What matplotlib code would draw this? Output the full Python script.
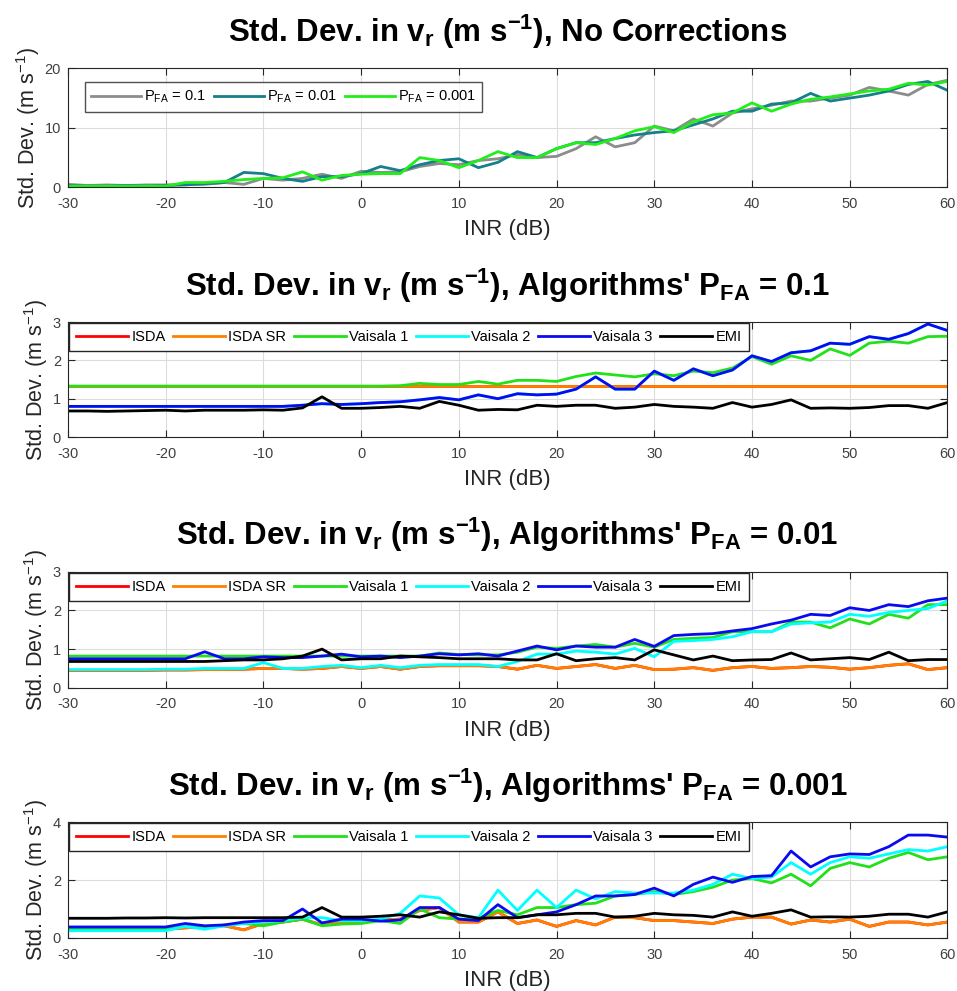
import numpy as np
import matplotlib
matplotlib.use("Agg")
from matplotlib import pyplot as plt

plt.rcParams['font.family'] = ['Liberation Sans', 'DejaVu Sans']
plt.rcParams['mathtext.fontset'] = 'custom'
plt.rcParams['mathtext.rm'] = 'Liberation Sans'
plt.rcParams['mathtext.it'] = 'Liberation Sans'
plt.rcParams['mathtext.bf'] = 'Liberation Sans:bold'
plt.rcParams['axes.unicode_minus'] = False

inr = list(range(-30, 61, 2))

# panel 1: no corrections
nc_01 = [0.5, 0.3, 0.4, 0.3, 0.4, 0.4, 0.5, 0.5, 0.8, 0.5, 1.5, 1.2, 1.5, 2.2, 1.5, 2.7,
         2.5, 2.6, 3.5, 4.0, 3.8, 4.5, 4.8, 5.5, 5.0, 5.2, 6.5, 8.5, 6.8, 7.5, 10.3, 9.5,
         11.5, 10.3, 12.5, 13.2, 13.8, 14.5, 14.5, 15.0, 15.5, 16.8, 16.2, 15.5, 17.3, 18.0]
nc_001 = [0.3, 0.2, 0.2, 0.3, 0.2, 0.3, 0.4, 0.6, 0.8, 2.5, 2.3, 1.5, 1.0, 1.8, 1.8, 2.3,
          3.5, 2.8, 3.8, 4.5, 4.8, 3.3, 4.2, 6.0, 5.0, 6.5, 7.5, 7.5, 8.2, 8.8, 9.2, 9.5,
          10.5, 11.5, 12.8, 12.8, 14.0, 14.2, 15.8, 14.5, 15.0, 15.5, 16.2, 17.3, 17.8, 16.3]
nc_0001 = [0.2, 0.2, 0.2, 0.2, 0.2, 0.2, 0.8, 0.8, 1.0, 1.3, 1.5, 1.6, 2.6, 1.2, 2.0, 2.2,
           2.3, 2.3, 5.0, 4.5, 3.3, 4.5, 6.0, 5.0, 5.0, 6.5, 7.5, 7.2, 8.2, 9.5, 10.2, 9.2,
           11.0, 12.2, 12.5, 14.2, 12.8, 14.0, 14.8, 15.2, 15.7, 16.2, 16.5, 17.5, 17.2, 17.8]

# panel 2: algorithms' P_FA = 0.1
p1_isda = [1.33] * 46
p1_isdasr = [1.33] * 46
p1_vai1 = [1.33] * 17 + [1.34, 1.40, 1.37, 1.37, 1.45, 1.38, 1.48, 1.48, 1.45, 1.58, 1.67,
                         1.62, 1.57, 1.65, 1.60, 1.72, 1.68, 1.80, 2.10, 1.90, 2.12, 2.00,
                         2.30, 2.13, 2.45, 2.50, 2.45, 2.62, 2.63]
p1_vai3 = [0.80] * 12 + [0.83, 0.87, 0.85, 0.87, 0.90, 0.92, 0.97, 1.03, 0.97, 1.10, 1.00,
                         1.13, 1.10, 1.12, 1.25, 1.57, 1.25, 1.25, 1.72, 1.48, 1.78, 1.60,
                         1.75, 2.12, 1.97, 2.20, 2.25, 2.45, 2.42, 2.62, 2.55, 2.70, 2.95, 2.78]
p1_vai2 = list(p1_vai3)
p1_emi = [0.68, 0.68, 0.67, 0.68, 0.69, 0.70, 0.68, 0.70, 0.70, 0.70, 0.71, 0.70, 0.76, 1.05,
          0.75, 0.75, 0.77, 0.80, 0.75, 0.93, 0.83, 0.70, 0.72, 0.71, 0.83, 0.80, 0.83, 0.83,
          0.75, 0.78, 0.85, 0.80, 0.78, 0.75, 0.90, 0.78, 0.85, 0.97, 0.75, 0.76, 0.75, 0.77,
          0.82, 0.82, 0.75, 0.90]

# panel 3: algorithms' P_FA = 0.01
p2_isdasr = [0.45, 0.45, 0.45, 0.45, 0.45, 0.46, 0.46, 0.47, 0.47, 0.48, 0.50, 0.50, 0.48,
             0.50, 0.55, 0.50, 0.55, 0.48, 0.55, 0.57, 0.57, 0.57, 0.55, 0.48, 0.58, 0.50,
             0.55, 0.60, 0.50, 0.58, 0.47, 0.48, 0.52, 0.45, 0.52, 0.55, 0.50, 0.52, 0.55,
             0.53, 0.48, 0.52, 0.58, 0.62, 0.47, 0.52]
p2_isda = list(p2_isdasr)
p2_vai1 = [0.82] * 19 + [0.90, 0.86, 0.85, 0.85, 0.92, 1.05, 1.02, 1.08, 1.12, 1.05,
                         1.15, 1.05, 1.25, 1.28, 1.30, 1.45, 1.45, 1.45, 1.70, 1.70, 1.55,
                         1.78, 1.65, 1.90, 1.80, 2.15, 2.15]
p2_vai2 = [0.47, 0.47, 0.47, 0.47, 0.47, 0.48, 0.48, 0.50, 0.50, 0.50, 0.65, 0.50, 0.50,
           0.55, 0.58, 0.52, 0.58, 0.52, 0.58, 0.60, 0.60, 0.60, 0.55, 0.68, 0.87, 0.87,
           0.95, 0.92, 0.87, 1.02, 0.80, 1.20, 1.22, 1.25, 1.32, 1.45, 1.45, 1.65, 1.68,
           1.70, 1.90, 1.85, 1.95, 2.00, 2.05, 2.25]
p2_vai3 = [0.75, 0.75, 0.75, 0.75, 0.75, 0.75, 0.75, 0.93, 0.75, 0.75, 0.80, 0.78, 0.78,
           0.82, 0.87, 0.80, 0.82, 0.78, 0.82, 0.88, 0.85, 0.88, 0.82, 0.95, 1.08, 0.98,
           1.08, 1.05, 1.05, 1.25, 1.07, 1.35, 1.38, 1.40, 1.47, 1.53, 1.65, 1.75, 1.90,
           1.87, 2.07, 2.00, 2.15, 2.10, 2.25, 2.32]
p2_emi = [0.68, 0.68, 0.68, 0.68, 0.68, 0.68, 0.68, 0.68, 0.70, 0.72, 0.72, 0.75, 0.82,
          1.00, 0.72, 0.75, 0.75, 0.82, 0.80, 0.78, 0.75, 0.75, 0.75, 0.72, 0.72, 0.88,
          0.70, 0.75, 0.78, 0.72, 0.98, 0.85, 0.72, 0.82, 0.70, 0.72, 0.73, 0.90, 0.72,
          0.75, 0.78, 0.73, 0.92, 0.70, 0.73, 0.73]

# panel 4: algorithms' P_FA = 0.001
p3_isdasr = [0.30, 0.30, 0.30, 0.30, 0.30, 0.30, 0.35, 0.38, 0.42, 0.28, 0.50, 0.55, 0.65,
             0.45, 0.55, 0.55, 0.62, 0.65, 0.95, 1.05, 0.55, 0.55, 0.90, 0.50, 0.62, 0.40,
             0.60, 0.45, 0.72, 0.70, 0.60, 0.60, 0.55, 0.50, 0.65, 0.72, 0.72, 0.48, 0.62,
             0.55, 0.65, 0.40, 0.55, 0.55, 0.45, 0.55]
p3_isda = list(p3_isdasr)
p3_vai1 = [0.30, 0.30, 0.30, 0.30, 0.30, 0.30, 0.40, 0.35, 0.45, 0.50, 0.42, 0.55, 0.65,
           0.42, 0.48, 0.50, 0.60, 0.50, 1.00, 0.70, 0.65, 0.68, 0.95, 0.80, 1.05, 1.05,
           1.15, 1.20, 1.45, 1.50, 1.60, 1.50, 1.60, 1.75, 2.00, 2.05, 1.90, 2.20, 1.80,
           2.40, 2.60, 2.45, 2.75, 2.95, 2.70, 2.80]
p3_vai2 = [0.25, 0.25, 0.25, 0.25, 0.25, 0.25, 0.40, 0.30, 0.42, 0.50, 0.55, 0.60, 0.70,
           0.70, 0.60, 0.60, 0.65, 0.85, 1.45, 1.38, 0.80, 0.70, 1.65, 0.95, 1.65, 1.05,
           1.65, 1.35, 1.60, 1.55, 1.55, 1.55, 1.65, 1.85, 2.20, 2.05, 2.10, 2.60, 2.20,
           2.60, 2.80, 2.75, 2.90, 3.05, 3.00, 3.15]
p3_vai3 = [0.38, 0.38, 0.38, 0.38, 0.38, 0.38, 0.50, 0.42, 0.45, 0.55, 0.60, 0.60, 1.00,
           0.52, 0.65, 0.65, 0.58, 0.62, 1.05, 1.05, 0.65, 0.60, 1.15, 0.70, 0.80, 0.90,
           1.15, 1.45, 1.45, 1.50, 1.72, 1.45, 1.85, 2.10, 1.92, 2.12, 2.15, 3.00, 2.45,
           2.80, 2.90, 2.88, 3.15, 3.55, 3.55, 3.48]
p3_emi = [0.68, 0.68, 0.68, 0.69, 0.69, 0.70, 0.69, 0.70, 0.70, 0.70, 0.70, 0.70, 0.72,
          1.05, 0.72, 0.72, 0.75, 0.80, 0.72, 0.90, 0.80, 0.68, 0.70, 0.70, 0.80, 0.80,
          0.85, 0.85, 0.72, 0.75, 0.85, 0.80, 0.78, 0.72, 0.90, 0.75, 0.85, 0.97, 0.72,
          0.73, 0.72, 0.75, 0.82, 0.82, 0.72, 0.90]

alg_names = ['ISDA', 'ISDA SR', 'Vaisala 1', 'Vaisala 2', 'Vaisala 3', 'EMI']
alg_colors = ['#ff0000', '#ff8000', '#22e01a', '#00ffff', '#0a0af0', '#000000']


def style_axes(ax, ymax, yticks):
    ax.set_xlim(-30, 60)
    ax.set_ylim(0, ymax)
    ax.set_xticks(range(-30, 61, 10))
    ax.set_yticks(yticks)
    ax.grid(True, color='#dcdcdc', linewidth=0.8)
    ax.set_axisbelow(True)
    ax.tick_params(direction='in', top=True, right=True, labelsize=10.5, length=5,
                   color='#262626', labelcolor='#404040')
    ax.tick_params(axis='x', pad=7)
    ax.tick_params(axis='y', pad=5)
    for s in ax.spines.values():
        s.set_color('#262626')
        s.set_linewidth(0.8)
    ax.set_xlabel('INR (dB)', fontsize=16, color='#262626', labelpad=6)
    ax.set_ylabel('Std. Dev. (m s$^{-1}$)', fontsize=15.5, color='#262626', labelpad=2)


fig = plt.figure(figsize=(9.57, 9.91), dpi=100)
positions = [[0.071, 0.811, 0.919, 0.120],
             [0.071, 0.559, 0.919, 0.116],
             [0.071, 0.306, 0.919, 0.117],
             [0.071, 0.0535, 0.919, 0.117]]

title_fs = 22.5
title_pad = 19

ax = fig.add_axes(positions[0])
ax.plot(inr, nc_01, color='#8c8c8c', lw=2.0, label='P$_{FA}$ = 0.1')
ax.plot(inr, nc_001, color='#157f8c', lw=2.0, label='P$_{FA}$ = 0.01')
ax.plot(inr, nc_0001, color='#22ee1a', lw=2.0, label='P$_{FA}$ = 0.001')
style_axes(ax, 20, [0, 10, 20])
ax.legend(loc='upper left', ncol=3, fontsize=10.5, frameon=True, fancybox=False,
          edgecolor='#262626', handlelength=3.4, columnspacing=0.6, handletextpad=0.2,
          borderpad=0.45, borderaxespad=0, bbox_to_anchor=(0.019, 0.885))
ax.set_title('Std. Dev. in v$_\\mathbf{r}$ (m s$^\\mathbf{-1}$), No Corrections',
             fontsize=title_fs, fontweight='bold', pad=title_pad)

panels = [
    ([p1_isda, p1_isdasr, p1_vai1, p1_vai2, p1_vai3, p1_emi], '0.1', 3, [0, 1, 2, 3]),
    ([p2_isda, p2_isdasr, p2_vai1, p2_vai2, p2_vai3, p2_emi], '0.01', 3, [0, 1, 2, 3]),
    ([p3_isda, p3_isdasr, p3_vai1, p3_vai2, p3_vai3, p3_emi], '0.001', 4, [0, 2, 4]),
]

for i, (series, pfa, ymax, yt) in enumerate(panels):
    ax = fig.add_axes(positions[i + 1])
    for vals, name, col in zip(series, alg_names, alg_colors):
        ax.plot(inr, vals, color=col, lw=2.0, label=name)
    style_axes(ax, ymax, yt)
    ax.legend(loc='upper left', ncol=6, fontsize=10.5, frameon=True, fancybox=False,
              edgecolor='#262626', handlelength=3.6, columnspacing=0.5, handletextpad=0.2,
              borderpad=0.5, borderaxespad=0.05, framealpha=1)
    ax.set_title("Std. Dev. in v$_\\mathbf{r}$ (m s$^\\mathbf{-1}$), Algorithms' P$_\\mathbf{FA}$ = " + pfa,
                 fontsize=title_fs, fontweight='bold', pad=title_pad)

fig.savefig('out.png', dpi=100)
